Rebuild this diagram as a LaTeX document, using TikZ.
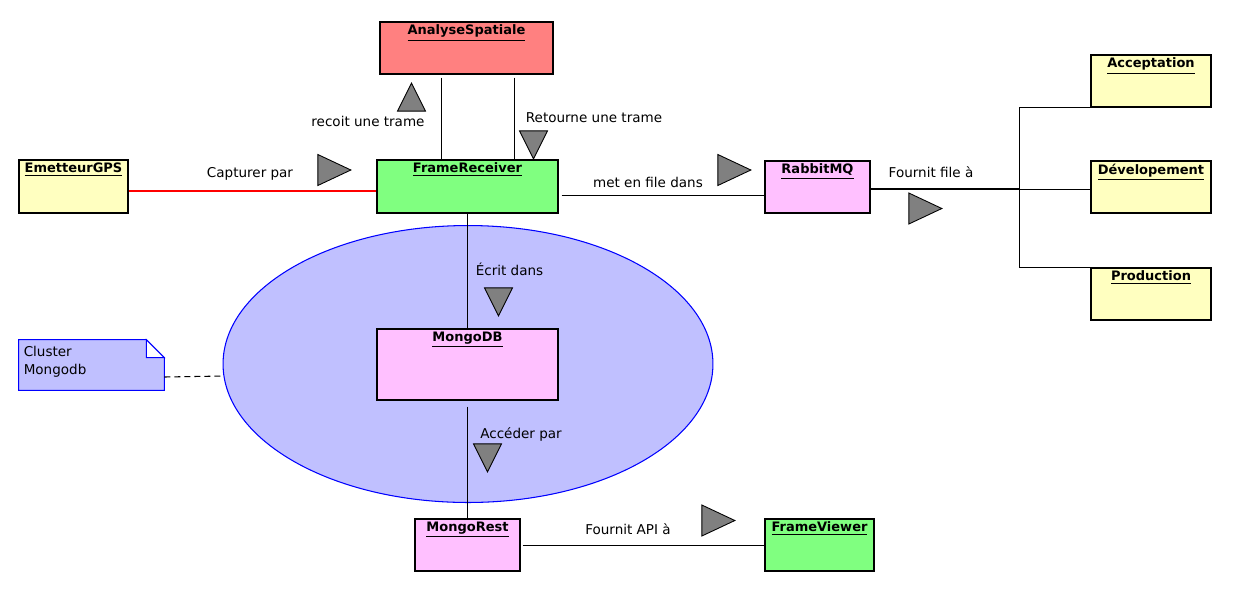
\documentclass[tikz,border=0pt]{standalone}
\usepackage{fontspec}
\setmainfont{DejaVu Sans}
\usetikzlibrary{shapes.geometric}

\definecolor{saumon}{HTML}{FF8080}
\definecolor{jaune}{HTML}{FFFFC0}
\definecolor{vert}{HTML}{80FF80}
\definecolor{rose}{HTML}{FFC0FF}
\definecolor{lavande}{HTML}{C0C0FF}
\definecolor{gris}{HTML}{808080}

\tikzset{
  obj/.style={draw, rectangle, fill=#1, inner sep=0pt, line width=0.6pt},
  titre/.style={anchor=north, inner sep=1.8pt, font=\fontsize{7.4}{8}\selectfont\bfseries},
  lien/.style={line width=0.55pt},
  etiq/.style={font=\fontsize{7.7}{9}\selectfont, inner sep=1pt},
  fleche/.style={isosceles triangle, isosceles triangle stretches, draw, fill=gris, anchor=apex,
    minimum width=0.62cm, minimum height=0.66cm, inner sep=0pt, line width=0.5pt, shape border rotate=#1},
  fleche v/.style={fleche=#1, minimum width=0.56cm, minimum height=0.56cm}
}

\begin{document}
\begin{tikzpicture}[x=0.02cm, y=-0.02cm]
\useasboundingbox (0,0) rectangle (1258,593);

\node[ellipse, draw=blue, fill=lavande, line width=0.6pt, minimum width=9.8cm, minimum height=5.54cm] (cluster) at (468,364) {};

\node[obj=saumon, minimum width=3.46cm, minimum height=1.04cm, label={[titre]north:\underline{AnalyseSpatiale}}] (ana) at (466.5,48) {};
\node[obj=jaune, minimum width=2.18cm, minimum height=1.06cm, label={[titre]north:\underline{EmetteurGPS}}] (gps) at (73.5,186.5) {};
\node[obj=vert, minimum width=3.62cm, minimum height=1.06cm, label={[titre]north:\underline{FrameReceiver}}] (recv) at (467.5,186.5) {};
\node[obj=rose, minimum width=2.1cm, minimum height=1.04cm, label={[titre]north:\underline{RabbitMQ}}] (rabbit) at (817.5,187) {};
\node[obj=jaune, minimum width=2.4cm, minimum height=1.04cm, label={[titre]north:\underline{Acceptation}}] (accept) at (1151,81) {};
\node[obj=jaune, minimum width=2.4cm, minimum height=1.04cm, label={[titre]north:\underline{Dévelopement}}] (devel) at (1151,187) {};
\node[obj=jaune, minimum width=2.4cm, minimum height=1.04cm, label={[titre]north:\underline{Production}}] (prod) at (1151,294) {};
\node[obj=rose, minimum width=3.62cm, minimum height=1.42cm, label={[titre]north:\underline{MongoDB}}] (mongo) at (467.5,364.5) {};
\node[obj=rose, minimum width=2.1cm, minimum height=1.04cm, label={[titre]north:\underline{MongoRest}}] (rest) at (467.5,545) {};
\node[obj=vert, minimum width=2.18cm, minimum height=1.04cm, label={[titre]north:\underline{FrameViewer}}] (viewer) at (819.5,545) {};

\node[minimum width=2.9cm, minimum height=1cm, inner sep=0pt] (note) at (91.5,365) {};
\filldraw[draw=blue, fill=lavande, line width=0.6pt] (note.south west) -- (note.north west) -- ([shift={(-18,0)}]note.north east)
  -- ([shift={(0,18)}]note.north east) -- (note.south east) -- cycle;
\filldraw[draw=blue, fill=white, line width=0.6pt] ([shift={(-18,0)}]note.north east) |- ([shift={(0,18)}]note.north east) -- cycle;
\node[etiq, anchor=north west, align=left, font=\fontsize{7.7}{10.4}\selectfont] (notetxt) at ([shift={(3,4)}]note.north west) {Cluster\\Mongodb};
\draw[dashed, dash pattern=on 3.4pt off 2.3pt, line width=0.6pt] ([shift={(0,12)}]note.east) -- ([shift={(1,12)}]cluster.west);

\draw[draw=red, line width=0.6pt] (gps.east |- 0,191) -- (recv.west |- 0,191);
\node[etiq] (l1) at (250,174) {Capturer par};
\node[fleche=0] (t1) at (352,170) {};

\draw[lien] ([shift={(0,3)}]ana.south -| 441,0) -- (recv.north -| 441,0);
\draw[lien] ([shift={(0,3)}]ana.south -| 514,0) -- (recv.north -| 514,0);
\node[etiq] (l2) at (368,121) {recoit une trame};
\node[fleche v=90] (t2) at (411.5,82) {};
\node[etiq] (l3) at (594,118) {Retourne une trame};
\node[fleche v=270] (t3) at (533.5,160) {};

\draw[lien] ([shift={(3,0)}]recv.east |- 0,195) -- (rabbit.west |- 0,195);
\node[etiq] (l4) at (648,182) {met en file dans};
\node[fleche=0] (t4) at (752,170) {};

\coordinate (fork) at (1019,189);
\draw[line width=1.2pt] (rabbit.east |- fork) -- (fork);
\draw[lien] (accept.south west) -| (fork) -- (devel.west |- fork);
\draw[lien] (fork) |- (prod.north west);
\node[etiq] (l5) at (931,172) {Fournit file à};
\node[fleche=0] (t5) at (943,208.5) {};

\draw[lien] (recv.south) -- (mongo.north);
\node[etiq] (l6) at (509.5,269) {Écrit dans};
\node[fleche v=270] (t6) at (498.5,317) {};

\draw[lien] ([shift={(0,6)}]mongo.south) -- (rest.north);
\node[etiq] (l7) at (521,434) {Accéder par};
\node[fleche v=270] (t7) at (487.5,473) {};

\draw[lien] ([shift={(2,0)}]rest.east) -- (viewer.west);
\node[etiq] (l8) at (628,529) {Fournit API à};
\node[fleche=0] (t8) at (736,520.5) {};
\end{tikzpicture}
\end{document}
